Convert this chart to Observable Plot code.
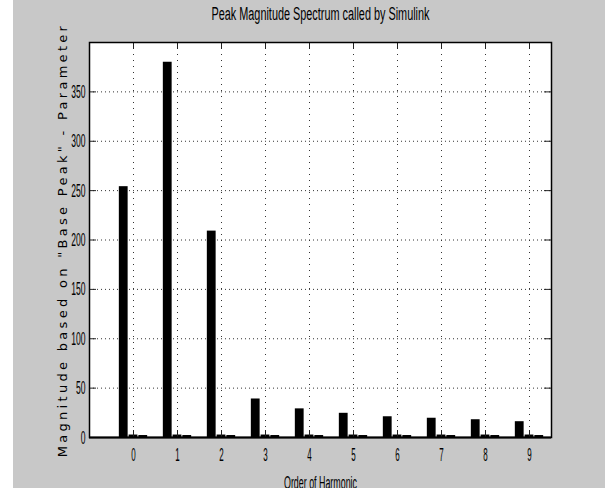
<!DOCTYPE html>
<html><head><meta charset="utf-8">
<script src="https://cdn.jsdelivr.net/npm/d3@7"></script>
<script src="https://cdn.jsdelivr.net/npm/@observablehq/plot@0.6"></script>
<style>
body{margin:0;background:#fff;width:608px;height:488px;overflow:hidden;}
#chart{position:absolute;left:13px;top:0;}
</style></head><body><div id="chart"></div>
<script>
const harmonics = [0, 1, 2, 3, 4, 5, 6, 7, 8, 9];
const peakMagnitude = [254, 380, 209, 39, 29, 24.5, 21, 19.5, 18, 16];
const seriesB = [2.5, 2.5, 2.5, 2.5, 2.5, 2.5, 2.5, 2.5, 2.5, 2.5];
const seriesC = [2, 2, 2, 2, 2, 2, 2, 2, 2, 2];
const yTicks = [0, 50, 100, 150, 200, 250, 300, 350];
const xTicks = harmonics;
const titleText = "Peak Magnitude Spectrum called by Simulink";
const xLabelText = "Order of Harmonic";
const yLabelText = 'Magnitude based on "Base Peak" - Parameter';

const groupOffsets = [-0.222, 0, 0.222];
const barWidth = 0.2;
const series = [peakMagnitude, seriesB, seriesC];
const bars = [];
series.forEach((vals, s) => harmonics.forEach((h, i) => bars.push({h, s, v: vals[i]})));

const W = 592, H = 488, mL = 76, mR = 54, mT = 42, mB = 51;
const innerW = W - mL - mR, innerH = H - mT - mB;
const tick = 7;

const plot = Plot.plot({
  width: W, height: H,
  marginLeft: mL, marginRight: mR, marginTop: mT, marginBottom: mB,
  style: {background: "#c8c8c8", fontFamily: "'Liberation Sans', Arial, sans-serif", fontSize: "19px", color: "#000", overflow: "visible"},
  x: {domain: [-1, 9.5], ticks: xTicks, tickSize: 0, tickPadding: 10, label: null},
  y: {domain: [0, 400], ticks: yTicks, tickSize: 0, tickPadding: 4, label: null},
  marks: [
    Plot.frame({fill: "white"}),
    Plot.ruleY(yTicks.filter(d => d > 0), {stroke: "#333", strokeDasharray: "1,3"}),
    Plot.ruleX(xTicks, {stroke: "#333", strokeDasharray: "1,5"}),
    Plot.rectY(bars, {
      x1: d => d.h + groupOffsets[d.s] - barWidth / 2,
      x2: d => d.h + groupOffsets[d.s] + barWidth / 2,
      y1: 0, y2: "v", fill: "black"
    }),
    Plot.ruleX(xTicks, {stroke: "#222", insetBottom: innerH - tick}),
    Plot.ruleX(xTicks, {stroke: "#222", insetTop: innerH - tick}),
    Plot.ruleY(yTicks, {stroke: "#222", insetRight: innerW - tick}),
    Plot.ruleY(yTicks, {stroke: "#222", insetLeft: innerW - tick}),
    Plot.frame({stroke: "black", strokeWidth: 1.5}),
    Plot.ruleY([0], {stroke: "black", strokeWidth: 2}),
    Plot.text([titleText], {frameAnchor: "top", dy: -28, lineAnchor: "middle", fontSize: 18, fill: "#000", ariaDescription: "title"}),
    Plot.text([xLabelText], {frameAnchor: "bottom", dy: 46, lineAnchor: "middle", fontSize: 18, fill: "#000", ariaDescription: "xlabel"}),
    Plot.text([yLabelText], {frameAnchor: "left", textAnchor: "middle", dx: -27, rotate: -90, lineAnchor: "middle", fontSize: 13, fontFamily: "'DejaVu Sans', sans-serif", fill: "#000", ariaDescription: "ylabel"})
  ]
});
document.getElementById("chart").appendChild(plot);

const svg = d3.select(plot);
function squishTo(sel, len) {
  sel.each(function() { this.setAttribute("textLength", len); this.setAttribute("lengthAdjust", "spacingAndGlyphs"); });
}
function squishBy(sel, f) {
  sel.each(function() {
    const l = this.getComputedTextLength();
    this.setAttribute("textLength", (l * f).toFixed(2));
    this.setAttribute("lengthAdjust", "spacingAndGlyphs");
  });
}
squishTo(svg.selectAll('g[aria-description="title"] text'), 218);
squishTo(svg.selectAll('g[aria-description="xlabel"] text'), 73);
svg.selectAll('g[aria-description="ylabel"] text').attr("letter-spacing", "3.3px");
squishBy(svg.selectAll('g[aria-label="x-axis tick label"] text'), 0.42);
squishBy(svg.selectAll('g[aria-label="y-axis tick label"] text'), 0.45);
</script></body></html>
